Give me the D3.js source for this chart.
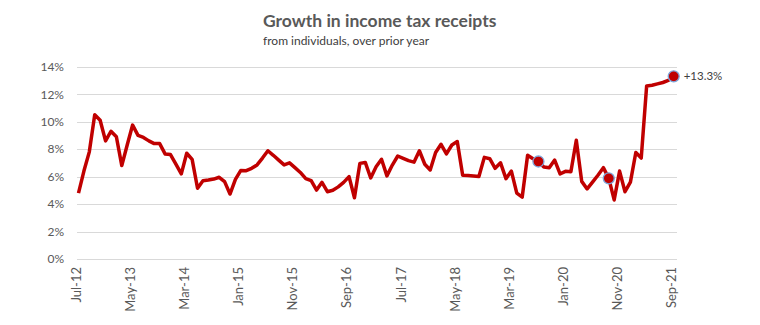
<!DOCTYPE html>
<html><head><meta charset="utf-8">
<script src="https://cdn.jsdelivr.net/npm/d3@7"></script>
<style>body{margin:0;background:#fff}svg{display:block}</style>
</head><body><div id="chart"></div>
<script>
const startMonth = "2012-07";
const values = [4.8,6.4,7.8,10.5,10.1,8.6,9.3,8.9,6.8,8.3,
9.75,9.0,8.85,8.6,8.4,8.4,7.65,7.6,6.9,6.2,
7.7,7.25,5.15,5.7,5.75,5.82,5.95,5.63,4.73,5.8,
6.45,6.43,6.6,6.85,7.35,7.88,7.55,7.2,6.85,7.0,
6.65,6.3,5.85,5.7,5.02,5.58,4.9,5.0,5.25,5.58,
6.0,4.46,6.96,7.03,5.9,6.72,7.26,6.05,6.84,7.5,
7.33,7.16,7.05,7.88,6.9,6.48,7.75,8.35,7.65,8.3,
8.55,6.1,6.08,6.05,6.0,7.4,7.3,6.6,7.0,5.85,
6.4,4.8,4.5,7.55,7.3,7.1,6.7,6.65,7.2,6.2,
6.38,6.35,8.65,5.65,5.1,5.6,6.1,6.65,5.87,4.3,
6.4,4.9,5.6,7.75,7.35,12.6,12.65,12.75,12.85,13.0,13.3];
const tickLabels = ["Jul-12","May-13","Mar-14","Jan-15","Nov-15","Sep-16","Jul-17","May-18","Mar-19","Jan-20","Nov-20","Sep-21"];
const yTicks = [0,2,4,6,8,10,12,14];
const markedMonths = ["Aug-19","Sep-20","Sep-21"];
const endLabel = "+13.3%";
const title = "Growth in income tax receipts";
const subtitle = "from individuals, over prior year";

const fmt = d3.timeFormat("%b-%y");
const t0 = d3.timeParse("%Y-%m")(startMonth);
const months = values.map((v,i)=>fmt(d3.timeMonth.offset(t0,i)));
const data = values.map((v,i)=>({m:months[i], v}));

const W=760,H=325;
const svg=d3.select("#chart").append("svg").attr("width",W).attr("height",H);
const font="Lato, 'Open Sans', sans-serif";
const x=d3.scalePoint().domain(months).range([78.5,673.7]);
const y=d3.scaleLinear().domain([0,14]).range([259,66.7]);
const gx0=77, gx1=677;

svg.append("g").selectAll("line").data(yTicks).join("line")
 .attr("x1",gx0).attr("x2",gx1).attr("y1",d=>Math.round(y(d))+0.5).attr("y2",d=>Math.round(y(d))+0.5)
 .attr("stroke","#d9d9d9").attr("stroke-width",1);

const yAxis=d3.axisLeft(y).tickValues(yTicks).tickFormat(d=>d+"%").tickSize(0).tickPadding(0);
const gy=svg.append("g").attr("transform","translate(64,0)").call(yAxis);
gy.select(".domain").remove();
gy.selectAll("text").attr("font-family",font).attr("font-size",12).attr("fill","#595959");

const xAxis=d3.axisBottom(x).tickValues(tickLabels).tickSize(0).tickPadding(0);
const gxA=svg.append("g").attr("transform","translate(0,267)").call(xAxis);
gxA.select(".domain").remove();
gxA.selectAll("text").attr("font-family",font).attr("font-size",13).attr("fill","#595959")
 .attr("transform","rotate(-90)").attr("text-anchor","end").attr("x",0).attr("y",0).attr("dy","0.15em");

svg.append("path").datum(data)
 .attr("d",d3.line().x(d=>x(d.m)).y(d=>y(d.v)))
 .attr("fill","none").attr("stroke","#c00000").attr("stroke-width",3.5).attr("stroke-linejoin","round");

svg.append("g").selectAll("circle").data(data.filter(d=>markedMonths.includes(d.m))).join("circle")
 .attr("cx",d=>x(d.m)).attr("cy",d=>y(d.v)).attr("r",5.5)
 .attr("fill","#c00000").attr("stroke","#7ea6da").attr("stroke-width",1.3);

const last=data[data.length-1];
svg.append("text").attr("x",x(last.m)+10).attr("y",y(last.v)).attr("dy","0.35em")
 .attr("font-family",font).attr("font-size",11.5).attr("fill","#404040").text(endLabel);

svg.append("text").attr("x",263).attr("y",27).attr("font-family",font).attr("font-weight","bold")
 .attr("font-size",17.5).attr("fill","#595959").text(title);
svg.append("text").attr("x",263).attr("y",45).attr("font-family",font)
 .attr("font-size",12).attr("fill","#404040").text(subtitle);
</script></body></html>
